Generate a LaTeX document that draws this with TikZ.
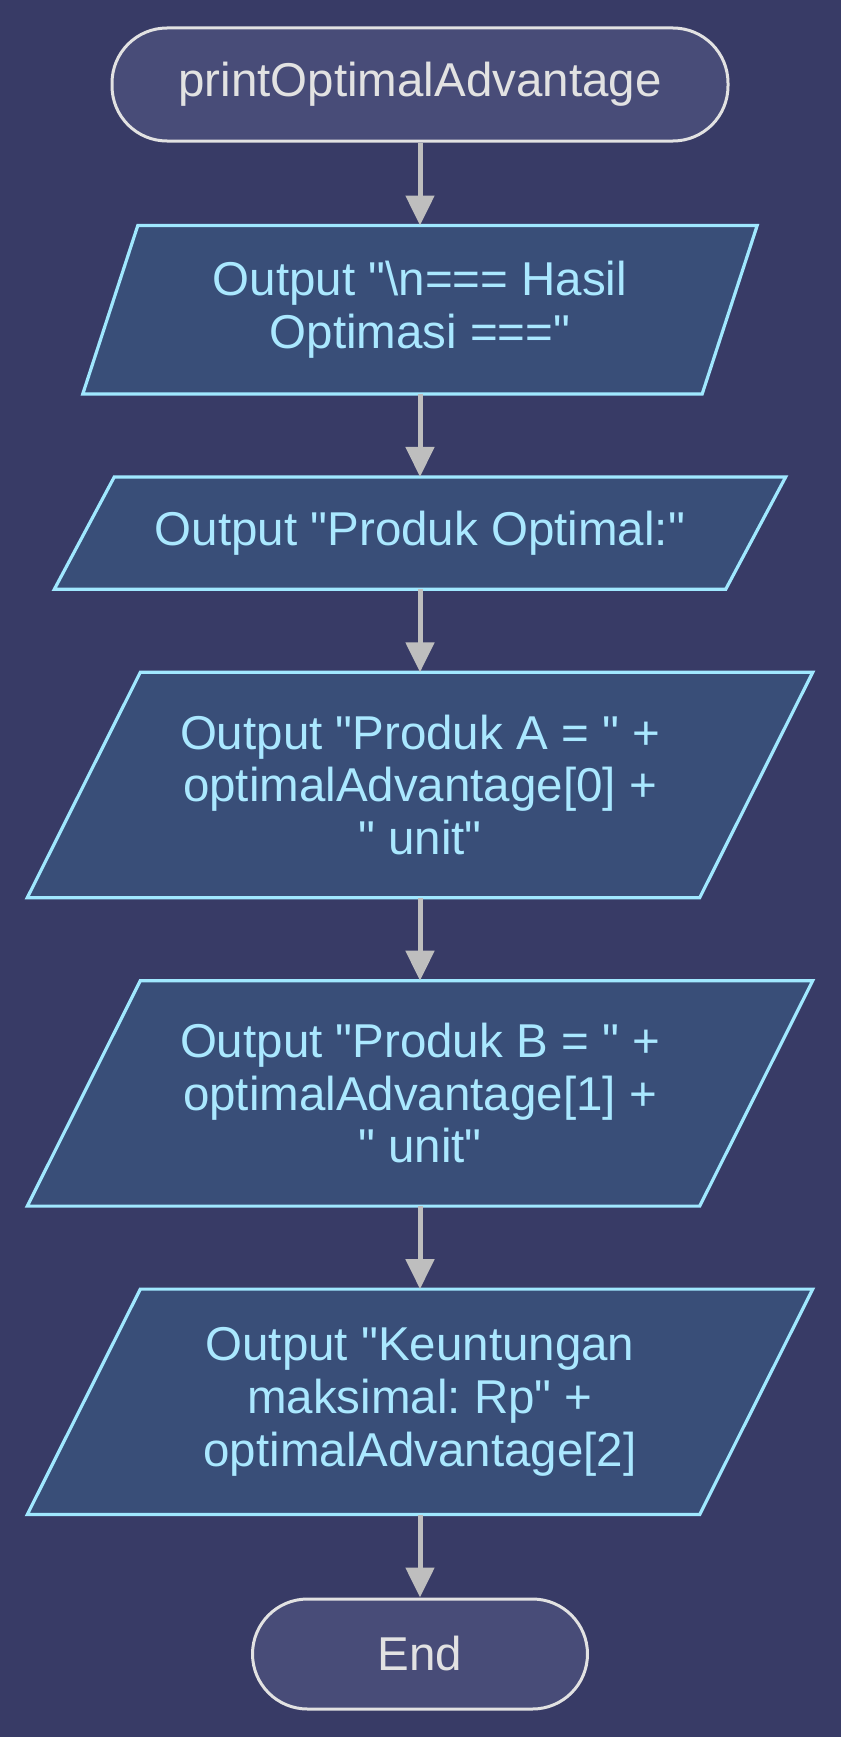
\documentclass[tikz,border=0pt]{standalone}
\usepackage{fontspec}
\setmainfont{Liberation Sans}
\usetikzlibrary{positioning,arrows.meta,calc,backgrounds}
\frenchspacing
\definecolor{pagebg}{RGB}{56,59,102}
\definecolor{termfill}{RGB}{72,76,120}
\definecolor{termline}{RGB}{226,226,226}
\definecolor{iofill}{RGB}{57,78,120}
\definecolor{ioline}{RGB}{160,232,255}
\definecolor{iotext}{RGB}{170,232,255}
\definecolor{arrowgray}{RGB}{190,190,190}

% straight double quote
\newcommand{\dq}{\textquotedbl}
% slanted box drawn behind a plain node
\newcommand{\iopath}[2]{%
  \draw[ioshape] ($(#1.north west)+(#2,0)$) -- (#1.north east)
    -- ($(#1.south east)-(#2,0)$) -- (#1.south west) -- cycle;}

\begin{document}
\begin{tikzpicture}[
  x=1pt, y=1pt,
  node distance=83pt,
  font=\fontsize{47.5}{52.6}\selectfont,
  term/.style={draw=termline, fill=termfill, line width=3pt,
               rounded corners=55pt, text=termline,
               minimum height=113pt, inner sep=0pt},
  io/.style={align=center, text=iotext, inner sep=0pt},
  ioshape/.style={fill=iofill, draw=ioline, line width=3.2pt},
  arr/.style={-{Triangle[width=28pt,length=30pt]}, line width=5pt, arrowgray}
]
\useasboundingbox (0,0) rectangle (841,-1737);

\node[term, minimum width=616pt] (start) at (420,-84.5) {printOptimalAdvantage};
\node[io, minimum width=674pt, minimum height=168pt, below=of start] (hdr)
  {Output \dq\textbackslash n=== Hasil\\Optimasi ===\dq};
\node[io, minimum width=731pt, minimum height=112pt, below=of hdr] (lbl)
  {Output \dq Produk Optimal:\dq};
\node[io, minimum width=785pt, minimum height=225pt, below=of lbl] (prodA)
  {Output \dq Produk A = \dq{} +\\optimalAdvantage[0] +\\\dq{} unit\dq};
\node[io, minimum width=785pt, minimum height=225pt, below=of prodA] (prodB)
  {Output \dq Produk B = \dq{} +\\optimalAdvantage[1] +\\\dq{} unit\dq};
\node[io, minimum width=785pt, minimum height=225pt, below=of prodB] (profit)
  {Output \dq Keuntungan\\maksimal: Rp\dq{} +\\optimalAdvantage[2]};
\node[term, minimum width=335pt, minimum height=110pt, below=of profit] (stop) {End};

\draw[arr] (start) -- (hdr);
\draw[arr] (hdr) -- (lbl);
\draw[arr] (lbl) -- (prodA);
\draw[arr] (prodA) -- (prodB);
\draw[arr] (prodB) -- (profit);
\draw[arr] (profit) -- (stop);

\begin{pgfonlayer}{background}
  \fill[pagebg] (0,0) rectangle (841,-1737);
  \iopath{hdr}{55}
  \iopath{lbl}{60}
  \iopath{prodA}{113}
  \iopath{prodB}{113}
  \iopath{profit}{113}
\end{pgfonlayer}
\end{tikzpicture}
\end{document}
